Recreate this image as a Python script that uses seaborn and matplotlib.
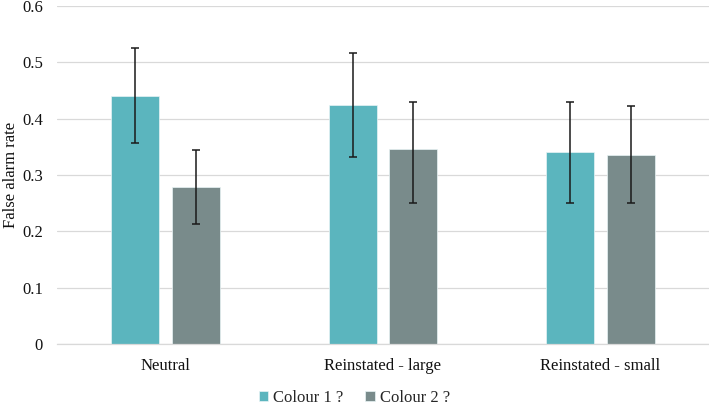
import matplotlib
matplotlib.use("Agg")
import matplotlib.pyplot as plt
import seaborn as sns
import pandas as pd
import numpy as np

categories = ["Neutral", "Reinstated - large", "Reinstated - small"]
series_names = ["Colour 1 ?", "Colour 2 ?"]
colour1 = [0.441, 0.425, 0.340]
colour2 = [0.279, 0.347, 0.336]
colour1_err_low = [0.356, 0.332, 0.250]
colour1_err_high = [0.526, 0.517, 0.429]
colour2_err_low = [0.213, 0.250, 0.250]
colour2_err_high = [0.345, 0.429, 0.422]
yticks = [0, 0.1, 0.2, 0.3, 0.4, 0.5, 0.6]
ytick_labels = ["0", "0.1", "0.2", "0.3", "0.4", "0.5", "0.6"]

df = pd.DataFrame({
    "category": categories * 2,
    "series": [series_names[0]] * 3 + [series_names[1]] * 3,
    "value": colour1 + colour2,
})

sns.set_theme(style="white")
plt.rcParams["font.family"] = ["Liberation Serif", "DejaVu Serif"]

fig = plt.figure(figsize=(7.09, 4.07), dpi=100)
ax = fig.add_axes([57 / 709, 1 - 344 / 407, 1 - 57 / 709, 338 / 407])

palette = ["#5BB5BE", "#798B8B"]
sns.barplot(data=df, x="category", y="value", hue="series", palette=palette,
            width=0.56, gap=0.21, ax=ax, errorbar=None, saturation=1,
            edgecolor="#e8f4f5", linewidth=0.5, zorder=2)

lows = [colour1_err_low, colour2_err_low]
highs = [colour1_err_high, colour2_err_high]
for cont, lo, hi in zip(ax.containers, lows, highs):
    xs = [p.get_x() + p.get_width() / 2 for p in cont.patches]
    hs = np.array([p.get_height() for p in cont.patches])
    lo = np.array(lo)
    hi = np.array(hi)
    ax.errorbar(xs, hs, yerr=[hs - lo, hi - hs], fmt="none", ecolor="#1a1a1a",
                elinewidth=1.1, capsize=3, capthick=1.1, zorder=3)

ax.set_ylim(0, 0.6)
ax.set_xlim(-0.5, 2.5)
ax.set_yticks(yticks)
ax.set_yticklabels(ytick_labels)
ax.yaxis.grid(True, color="#D9D9D9", linewidth=0.9, zorder=0)
ax.set_axisbelow(True)
for s in ["top", "right", "left"]:
    ax.spines[s].set_visible(False)
ax.spines["bottom"].set_color("#D9D9D9")
ax.spines["bottom"].set_linewidth(0.9)
ax.tick_params(axis="both", length=0, labelsize=12, colors="#111111")
ax.tick_params(axis="y", pad=10)
ax.tick_params(axis="x", pad=10)
ax.set_xlabel("")
ax.set_ylabel("False alarm rate", fontsize=12, color="#111111", labelpad=2)

handles, labels = ax.get_legend_handles_labels()
ax.legend_.remove()
fig.legend(handles, labels, loc="center", bbox_to_anchor=(354.5 / 709, 1 - 398 / 407),
           ncol=2, frameon=False, fontsize=12, handlelength=0.55, handleheight=0.55,
           handletextpad=0.3, columnspacing=1.3, borderpad=0.2)

fig.savefig("out.png", dpi=100)
